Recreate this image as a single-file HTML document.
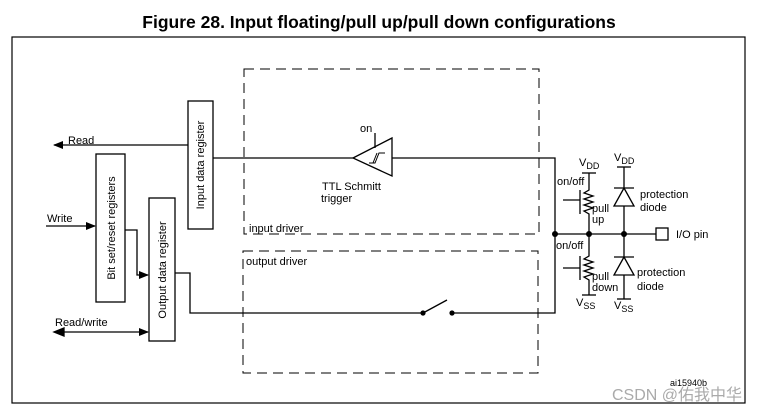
<!DOCTYPE html>
<html><head><style>
body{margin:0;background:#fff;}
svg{display:block;}
text{font-family:"Liberation Sans",Arial,sans-serif;font-size:11px;fill:#000;}
</style></head><body>
<svg width="764" height="413" viewBox="0 0 764 413" xmlns="http://www.w3.org/2000/svg">
<defs>
<marker id="ar" markerWidth="10" markerHeight="8" refX="9" refY="4" orient="auto" markerUnits="userSpaceOnUse">
<path d="M0,0 L10,4 L0,8 z" fill="#000"/></marker>
</defs>
<text x="379" y="28" text-anchor="middle" style="font-size:17.5px;font-weight:bold">Figure 28. Input floating/pull up/pull down configurations</text>
<rect x="12" y="37" width="733" height="366" fill="none" stroke="#000" stroke-width="1.2"/>
<g fill="none" stroke="#000" stroke-width="1" stroke-dasharray="10,6">
<rect x="244" y="69" width="295" height="165"/>
<rect x="243" y="251" width="295" height="122"/>
</g>
<g fill="none" stroke="#000" stroke-width="1.3">
<rect x="188" y="101" width="25" height="128"/>
<rect x="96" y="154" width="29" height="148"/>
<rect x="149" y="198" width="26" height="143"/>
<line x1="188" y1="145" x2="54" y2="145" marker-end="url(#ar)"/>
<line x1="46" y1="226" x2="95" y2="226" marker-end="url(#ar)"/>
<polyline points="125,230 137,230 137,275 148,275" marker-end="url(#ar)"/>
<polyline points="175,273 190,273 190,313 423,313"/>
<line x1="62" y1="332" x2="148" y2="332" marker-end="url(#ar)"/>
<path d="M54,332 L64,328 L64,336 z" fill="#000"/>
<line x1="213" y1="158" x2="353" y2="158"/>
<polygon points="353,158 392,138 392,176"/>
<line x1="375" y1="133" x2="375" y2="148"/>
<polyline points="369,163 375,163 379,153 385,153" stroke-width="1"/>
<polyline points="373,163 377,153" stroke-width="1"/>
<polyline points="392,158 555,158 555,313 452,313"/>
<line x1="423" y1="313" x2="447" y2="300"/>
<line x1="555" y1="234" x2="656" y2="234"/>
<rect x="656" y="228" width="12" height="12"/>
<line x1="582" y1="173" x2="596" y2="173"/>
<polyline points="589,173 589,190 584,193 593,196 584,199 593,202 584,205 593,208 584,211 589,214 589,234"/>
<line x1="580" y1="190" x2="580" y2="214"/>
<line x1="563" y1="200" x2="580" y2="200"/>
<line x1="582" y1="295" x2="596" y2="295"/>
<polyline points="589,234 589,256 584,259 593,262 584,265 593,268 584,271 593,274 584,277 589,280 589,295"/>
<line x1="580" y1="256" x2="580" y2="280"/>
<line x1="563" y1="268" x2="580" y2="268"/>
<line x1="617" y1="167" x2="631" y2="167"/>
<line x1="624" y1="167" x2="624" y2="299"/>
<line x1="614" y1="188" x2="634" y2="188"/>
<polygon points="624,188 614,206 634,206" fill="#fff"/>
<line x1="614" y1="257" x2="634" y2="257"/>
<polygon points="624,257 614,275 634,275" fill="#fff"/>
<line x1="617" y1="299" x2="631" y2="299"/>
</g>
<g fill="#000">
<circle cx="555" cy="234" r="3"/><circle cx="589" cy="234" r="3"/><circle cx="624" cy="234" r="3"/>
<circle cx="423" cy="313" r="2.6"/><circle cx="452" cy="313" r="2.6"/>
</g>
<text transform="translate(204,165) rotate(-90)" text-anchor="middle">Input data register</text>
<text transform="translate(115,228) rotate(-90)" text-anchor="middle">Bit set/reset registers</text>
<text transform="translate(166,270) rotate(-90)" text-anchor="middle">Output data register</text>
<text x="68" y="144">Read</text>
<text x="47" y="222">Write</text>
<text x="55" y="326">Read/write</text>
<text x="360" y="132">on</text>
<text x="322" y="190">TTL Schmitt</text>
<text x="321" y="202">trigger</text>
<text x="249" y="232">input driver</text>
<text x="246" y="265">output driver</text>
<text x="579" y="166">V<tspan style="font-size:9px" dy="3">DD</tspan></text>
<text x="614" y="161">V<tspan style="font-size:9px" dy="3">DD</tspan></text>
<text x="557" y="185">on/off</text>
<text x="556" y="249">on/off</text>
<text x="592" y="212">pull</text>
<text x="592" y="223">up</text>
<text x="592" y="280">pull</text>
<text x="592" y="291">down</text>
<text x="576" y="306">V<tspan style="font-size:9px" dy="3">SS</tspan></text>
<text x="614" y="309">V<tspan style="font-size:9px" dy="3">SS</tspan></text>
<text x="640" y="198">protection</text>
<text x="640" y="211">diode</text>
<text x="637" y="276">protection</text>
<text x="637" y="290">diode</text>
<text x="676" y="238">I/O pin</text>
<text x="670" y="386" style="font-size:9px">ai15940b</text>
<text x="612" y="400" style="font-size:16px;fill:#aaa;font-family:'Liberation Sans','Noto Sans CJK SC',sans-serif">CSDN @佑我中华</text>
</svg>
</body></html>
